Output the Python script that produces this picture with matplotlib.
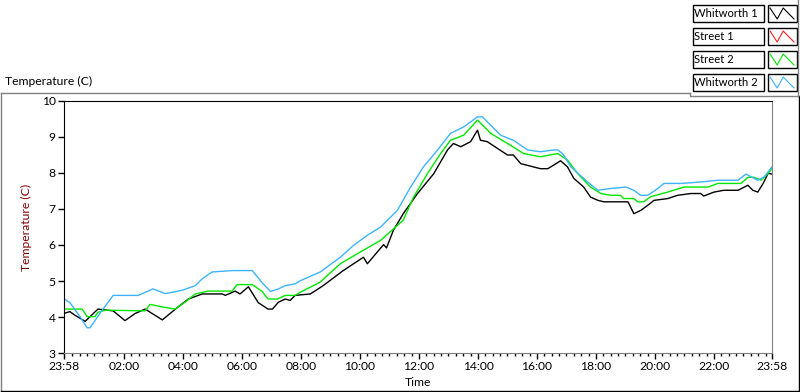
import numpy as np
import matplotlib
matplotlib.use("Agg")
from matplotlib import pyplot as plt
from matplotlib.patches import Rectangle

plt.rcParams['font.family'] = ['Lato', 'DejaVu Sans']
FS = 8.7
LEG_FS = 8.1

# minutes after 23:58 -> temperature (C)
t_whit1 = [0, 12, 22, 43, 69, 100, 124, 145, 165, 200, 232, 253, 281, 322, 328, 348, 358, 375,
           395, 415, 424, 436, 450, 460, 470, 501, 527, 568, 609, 617, 650, 656, 670, 690, 719,
           752, 780, 792, 807, 827, 841, 847, 861, 882, 902, 914, 929, 949, 969, 984, 996, 1010,
           1024, 1037, 1057, 1071, 1086, 1098, 1147, 1149, 1159, 1173, 1187, 1200, 1228, 1248,
           1275, 1295, 1301, 1322, 1342, 1371, 1391, 1401, 1411, 1422, 1432, 1440]
v_whit1 = [4.10, 4.15, 4.05, 3.88, 4.22, 4.17, 3.90, 4.10, 4.22, 3.92, 4.28, 4.50, 4.64, 4.64, 4.60,
           4.72, 4.64, 4.84, 4.40, 4.22, 4.22, 4.41, 4.50, 4.46, 4.60, 4.64, 4.87, 5.29, 5.66, 5.48,
           6.01, 5.92, 6.41, 6.87, 7.43, 7.98, 8.64, 8.82, 8.73, 8.87, 9.19, 8.91, 8.87, 8.68, 8.50,
           8.50, 8.26, 8.19, 8.12, 8.12, 8.22, 8.34, 8.17, 7.85, 7.61, 7.33, 7.24, 7.20, 7.20, 7.15,
           6.87, 6.96, 7.10, 7.24, 7.29, 7.38, 7.43, 7.43, 7.36, 7.47, 7.52, 7.52, 7.66, 7.52, 7.47,
           7.71, 7.99, 7.97]

t_street1 = []
v_street1 = []

t_street2 = [0, 37, 47, 63, 69, 84, 165, 175, 200, 226, 246, 267, 293, 342, 352, 383, 403, 415,
             434, 450, 470, 481, 521, 562, 597, 644, 690, 711, 739, 766, 786, 813, 841, 868, 902,
             935, 969, 1004, 1024, 1045, 1071, 1092, 1112, 1132, 1138, 1159, 1167, 1179, 1193,
             1228, 1261, 1310, 1330, 1377, 1391, 1403, 1418, 1432, 1440]
v_street2 = [4.22, 4.22, 4.01, 4.01, 4.13, 4.19, 4.17, 4.35, 4.28, 4.22, 4.41, 4.64, 4.72, 4.72,
             4.90, 4.90, 4.71, 4.50, 4.50, 4.60, 4.60, 4.69, 4.97, 5.48, 5.76, 6.13, 6.69, 7.33,
             7.98, 8.54, 8.91, 9.05, 9.47, 9.10, 8.82, 8.54, 8.45, 8.54, 8.36, 7.98, 7.61, 7.43,
             7.38, 7.38, 7.29, 7.29, 7.20, 7.20, 7.34, 7.47, 7.61, 7.61, 7.71, 7.71, 7.88, 7.88,
             7.80, 7.99, 8.12]

t_whit2 = [0, 12, 33, 47, 53, 73, 100, 151, 181, 206, 240, 267, 281, 301, 342, 383, 405, 420,
           436, 450, 470, 481, 521, 562, 589, 617, 644, 678, 705, 731, 760, 786, 813, 841, 851,
           864, 888, 914, 943, 969, 996, 1004, 1014, 1031, 1065, 1086, 1112, 1143, 1159, 1173,
           1187, 1208, 1220, 1255, 1295, 1330, 1371, 1387, 1411, 1424, 1440]
v_whit2 = [4.50, 4.40, 4.00, 3.70, 3.70, 4.10, 4.60, 4.60, 4.78, 4.65, 4.74, 4.87, 5.06, 5.25,
           5.29, 5.29, 4.92, 4.71, 4.78, 4.87, 4.92, 5.01, 5.25, 5.66, 5.99, 6.27, 6.50, 6.96,
           7.61, 8.17, 8.64, 9.10, 9.28, 9.56, 9.56, 9.38, 9.05, 8.91, 8.64, 8.59, 8.64, 8.64,
           8.54, 8.17, 7.75, 7.52, 7.57, 7.61, 7.52, 7.38, 7.38, 7.57, 7.71, 7.71, 7.75, 7.80,
           7.80, 7.97, 7.80, 7.89, 8.17]

series_names = ["Whitworth 1", "Street 1", "Street 2", "Whitworth 2"]
series_colors = ["#000000", "#ff2020", "#00e800", "#3cb4ff"]

tick_pos = [0, 122, 242, 362, 482, 602, 722, 842, 962, 1082, 1202, 1322, 1440]
tick_lab = ["23:58", "02:00", "04:00", "06:00", "08:00", "10:00", "12:00",
            "14:00", "16:00", "18:00", "20:00", "22:00", "23:58"]

W, H = 800, 392
fig = plt.figure(figsize=(W / 100, H / 100), dpi=100)

# background overlay in pixel coordinates (frames, caption, legend)
bg = fig.add_axes([0, 0, 1, 1])
bg.set_xlim(0, W)
bg.set_ylim(H, 0)
bg.axis("off")
gray = "#808080"
bg.plot([0.5, 690], [92.5, 92.5], color=gray, lw=1)
bg.plot([0.5, 0.5], [92.5, 391], color=gray, lw=1)
bg.plot([0.5, 799.5], [391.3, 391.3], color="black", lw=1)
bg.plot([799.3, 799.3], [96, 391.3], color="black", lw=1)
bg.plot([690, 690, 798], [92.5, 95.7, 95.7], color=gray, lw=1)
bg.plot([798, 798], [0, 95.7], color=gray, lw=1)
bg.text(5, 81, "Temperature (C)", fontsize=FS, va="center", ha="left")

zig_x = np.array([0, 0.3, 0.55, 1.0])
zig_y = np.array([1, 0, 1, 0])
for i, (name, col) in enumerate(zip(series_names, series_colors)):
    y0 = 5 + i * 23
    bg.add_patch(Rectangle((692.5, y0), 71, 17, fill=False, ec="black", lw=1))
    bg.text(694.5, y0 + 8.5, name, fontsize=LEG_FS, va="center", ha="left")
    bg.add_patch(Rectangle((767.5, y0), 29, 17, fill=False, ec="black", lw=1))
    bg.plot(770 + zig_x * 24, y0 + 14 - zig_y * 11, color=col, lw=0.8)

ax = fig.add_axes([64 / W, 1 - 353 / H, (772 - 64) / W, (353 - 101) / H])
ax.plot(t_whit1, v_whit1, color=series_colors[0], lw=1)
ax.plot(t_street1, v_street1, color=series_colors[1], lw=1)
ax.plot(t_street2, v_street2, color=series_colors[2], lw=1)
ax.plot(t_whit2, v_whit2, color=series_colors[3], lw=1)

ax.set_xlim(0, 1440)
ax.set_ylim(3, 10)
ax.set_yticks(range(3, 11))
ax.set_xticks(tick_pos)
ax.set_xticklabels(tick_lab)
minor = [m for m in range(2, 1440, 15) if min(abs(m - p) for p in tick_pos) > 5]
ax.set_xticks(minor, minor=True)
ax.tick_params(axis="both", which="major", length=4, width=1, labelsize=FS, pad=2,
               color="black")
ax.tick_params(axis="x", which="minor", length=2, width=1, color="black")
ax.spines["top"].set_color("black")
ax.spines["left"].set_color("black")
ax.spines["right"].set_color(gray)
ax.spines["bottom"].set_color(gray)
ax.set_xlabel("Time", fontsize=FS, labelpad=3)
ax.set_ylabel("Temperature (C)", fontsize=FS, color="#800000", labelpad=7)

fig.savefig("out.png", dpi=100)
